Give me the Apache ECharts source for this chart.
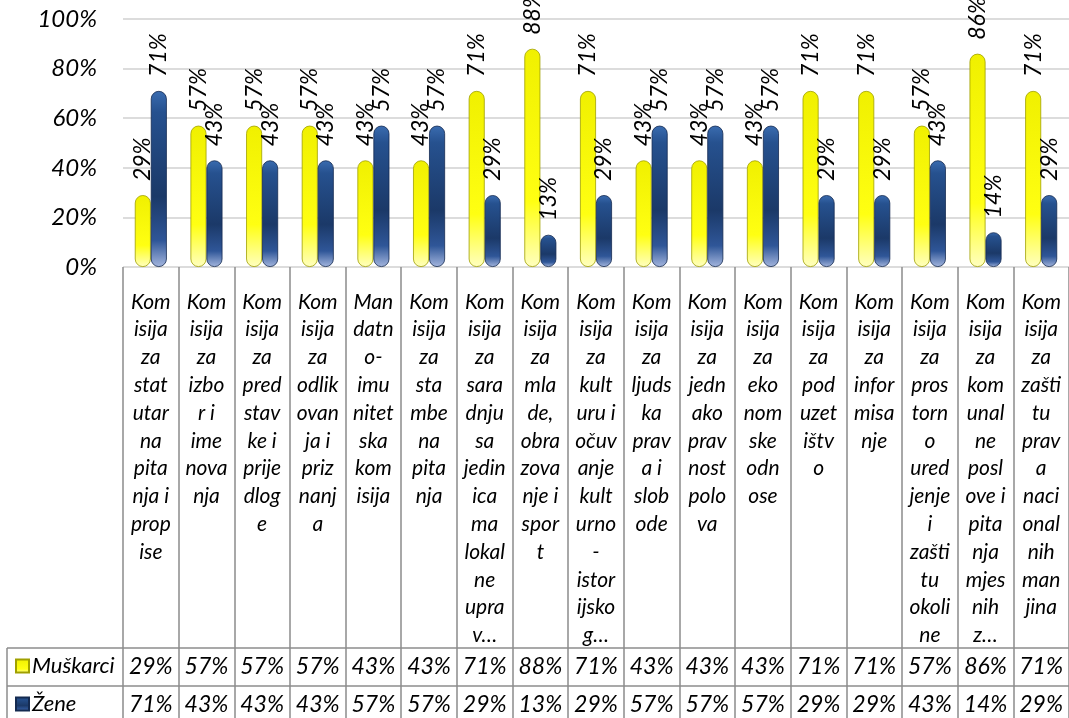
<!DOCTYPE html>
<html>
<head>
<meta charset="utf-8">
<script src="https://cdn.jsdelivr.net/npm/echarts@6/dist/echarts.min.js"></script>
<style>
  html, body { margin: 0; padding: 0; background: #fff; }
  #chart { width: 1069px; height: 718px; }
</style>
</head>
<body>
<div id="chart"></div>
<script>
// kategorije, kao sto su prelomljene u originalu
var categories = [
  'Kom\nisija\nza\nstat\nutar\nna\npita\nnja i\nprop\nise',
  'Kom\nisija\nza\nizbo\nr i\nime\nnova\nnja',
  'Kom\nisija\nza\npred\nstav\nke i\nprije\ndlog\ne',
  'Kom\nisija\nza\nodlik\novan\nja i\npriz\nnanj\na',
  'Man\ndatn\no-\nimu\nnitet\nska\nkom\nisija',
  'Kom\nisija\nza\nsta\nmbe\nna\npita\nnja',
  'Kom\nisija\nza\nsara\ndnju\nsa\njedin\nica\nma\nlokal\nne\nupra\nv…',
  'Kom\nisija\nza\nmla\nde,\nobra\nzova\nnje i\nspor\nt',
  'Kom\nisija\nza\nkult\nuru i\nočuv\nanje\nkult\nurno\n-\nistor\nijsko\ng…',
  'Kom\nisija\nza\nljuds\nka\nprav\na i\nslob\node',
  'Kom\nisija\nza\njedn\nako\nprav\nnost\npolo\nva',
  'Kom\nisija\nza\neko\nnom\nske\nodn\nose',
  'Kom\nisija\nza\npod\nuzet\ništv\no',
  'Kom\nisija\nza\ninfor\nmisa\nnje',
  'Kom\nisija\nza\npros\ntorn\no\nured\njenje\ni\nzašti\ntu\nokoli\nne',
  'Kom\nisija\nza\nkom\nunal\nne\nposl\nove i\npita\nnja\nmjes\nnih\nz…',
  'Kom\nisija\nza\nzašti\ntu\nprav\na\nnaci\nonal\nnih\nman\njina'
]
var seriesNames = ['Muškarci', 'Žene']
var men = [29, 57, 57, 57, 43, 43, 71, 88, 71, 43, 43, 43, 71, 71, 57, 86, 71]
var women = [71, 43, 43, 43, 57, 57, 29, 13, 29, 57, 57, 57, 29, 29, 43, 14, 29]
var yTicks = [0, 20, 40, 60, 80, 100]

var FONT = 'Lato, "Open Sans", sans-serif'
var LINE = '#8c8c8c'

var yellow = new echarts.graphic.LinearGradient(0, 0, 0, 1, [
  { offset: 0, color: '#f0f000' },
  { offset: 0.7, color: '#ffff12' },
  { offset: 1, color: '#ffffc0' }
])
var blue = new echarts.graphic.LinearGradient(0, 0, 0, 1, [
  { offset: 0, color: '#3a6cb0' },
  { offset: 0.12, color: '#26518f' },
  { offset: 0.6, color: '#1b3968' },
  { offset: 0.85, color: '#2f5698' },
  { offset: 1, color: '#a4b6de' }
])

function pct(v) { return v + '%' }

var chart = echarts.init(document.getElementById('chart'))

var barLabel = {
  show: true,
  position: 'top',
  distance: 14,
  rotate: 90,
  align: 'left',
  verticalAlign: 'middle',
  formatter: function (p) { return pct(p.value) },
  fontFamily: FONT,
  fontStyle: 'italic',
  fontSize: 23,
  color: '#000'
}

function valueAxis(values, offset) {
  return {
    type: 'category',
    data: categories,
    position: 'bottom',
    offset: offset,
    axisLine: { show: false },
    axisTick: { show: false },
    axisLabel: {
      interval: 0,
      margin: 19,
      verticalAlign: 'middle',
      formatter: function (v, i) { return pct(values[i]) },
      fontFamily: FONT,
      fontStyle: 'italic',
      fontSize: 23,
      color: '#000'
    }
  }
}

function legendRow(name, top) {
  return {
    data: [name],
    left: 15,
    top: top,
    padding: 0,
    icon: 'rect',
    itemWidth: 13,
    itemHeight: 13,
    textStyle: { fontFamily: FONT, fontStyle: 'italic', fontSize: 22, color: '#000', padding: [0, 0, 0, -2] }
  }
}

var option = {
  animation: false,
  backgroundColor: '#fff',
  legend: [legendRow(seriesNames[0], 655), legendRow(seriesNames[1], 693)],
  grid: { left: 123, top: 19, width: 947, height: 248 },
  xAxis: [
    {
      type: 'category',
      data: categories,
      position: 'bottom',
      axisLine: { show: false },
      axisTick: { show: true, interval: 0, length: 460, lineStyle: { color: LINE, width: 1.5 } },
      axisLabel: {
        interval: 0,
        margin: 21,
        lineHeight: 27.8,
        fontFamily: FONT,
        fontStyle: 'italic',
        fontSize: 21,
        color: '#000'
      }
    },
    valueAxis(men, 381),
    valueAxis(women, 419)
  ],
  yAxis: {
    type: 'value',
    min: yTicks[0],
    max: yTicks[yTicks.length - 1],
    interval: yTicks[1] - yTicks[0],
    axisLine: { show: false },
    axisTick: { show: false },
    splitLine: { lineStyle: { color: '#dcdcdc', width: 2 } },
    axisLabel: {
      margin: 26,
      formatter: function (v) { return pct(v) },
      fontFamily: FONT,
      fontStyle: 'italic',
      fontSize: 24,
      color: '#000'
    }
  },
  series: [
    {
      name: seriesNames[0],
      type: 'bar',
      data: men,
      barWidth: 16,
      barGap: '0%',
      itemStyle: { color: yellow, borderColor: '#a0a000', borderWidth: 0.8, borderRadius: 8 },
      label: barLabel
    },
    {
      name: seriesNames[1],
      type: 'bar',
      data: women,
      barWidth: 16,
      itemStyle: { color: blue, borderColor: '#142a50', borderWidth: 0.8, borderRadius: 8 },
      label: barLabel
    }
  ],
  graphic: [
    { type: 'line', shape: { x1: 7, y1: 648, x2: 1069, y2: 648 }, style: { stroke: LINE, lineWidth: 1.5 } },
    { type: 'line', shape: { x1: 7, y1: 686, x2: 1069, y2: 686 }, style: { stroke: LINE, lineWidth: 1.5 } },
    { type: 'line', shape: { x1: 7, y1: 648, x2: 7, y2: 718 }, style: { stroke: LINE, lineWidth: 1.5 } }
  ]
}

chart.setOption(option)
</script>
</body>
</html>
